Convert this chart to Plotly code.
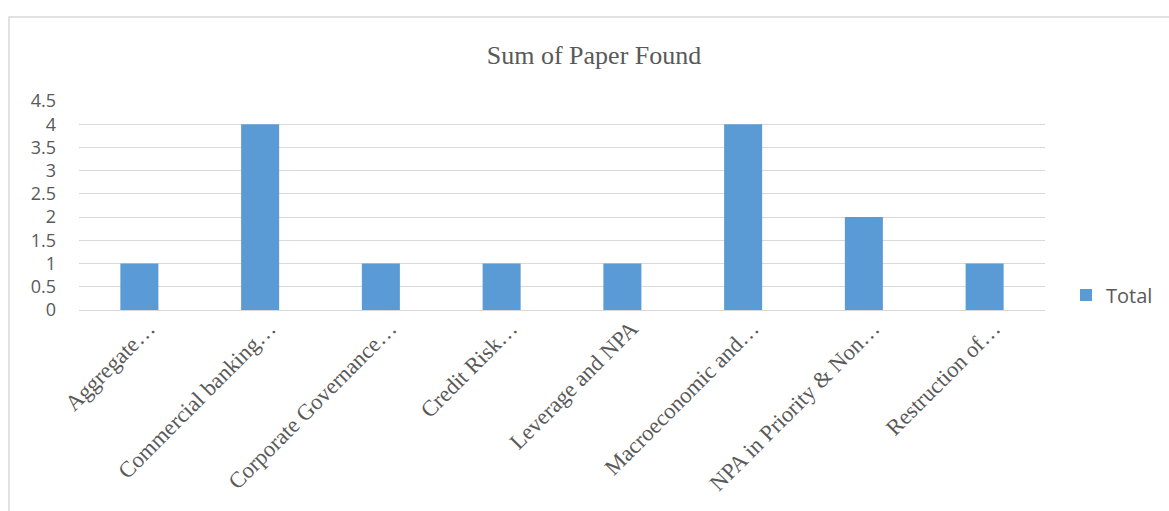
import plotly.graph_objects as go

categories = ["Aggregate…", "Commercial banking…", "Corporate Governance…", "Credit Risk…",
              "Leverage and NPA", "Macroeconomic and…", "NPA in Priority & Non…", "Restruction of…"]
totals = [1, 4, 1, 1, 1, 4, 2, 1]
y_ticks = [0, 0.5, 1, 1.5, 2, 2.5, 3, 3.5, 4, 4.5]
y_tick_labels = ["0", "0.5", "1", "1.5", "2", "2.5", "3", "3.5", "4", "4.5"]

W, H = 1169, 511
L, R, T, B = 79, 1045, 101, 310

fig = go.Figure()
fig.add_trace(go.Bar(
    x=categories, y=totals, name="Total",
    marker=dict(color="#5b9bd5", line=dict(color="#5b9bd5", width=0)),
    showlegend=True,
))

def px_x(p):
    return (p - L) / (R - L)

def px_y(p):
    return (B - p) / (B - T)

fig.update_layout(
    width=W, height=H,
    margin=dict(l=L, r=W - R, t=T, b=H - B),
    paper_bgcolor="white", plot_bgcolor="white",
    bargap=0.685,
    title=dict(text="Sum of Paper Found", x=594 / W, xanchor="center",
               y=1 - 55 / H, yanchor="middle",
               font=dict(family="Liberation Serif, Times New Roman, serif", size=26, color="#595959")),
    xaxis=dict(tickangle=-45, showgrid=False, showline=False, ticks="",
               ticklabelshift=9, ticklabelstandoff=0,
               tickfont=dict(family="Liberation Serif, Times New Roman, serif", size=22.5, color="#595959")),
    yaxis=dict(range=[0, 4.5], tickvals=y_ticks, ticktext=y_tick_labels,
               showgrid=True, gridcolor="#d9d9d9", gridwidth=1,
               zeroline=True, zerolinecolor="#d9d9d9", zerolinewidth=1,
               showline=False, ticks="", ticklabelstandoff=22,
               tickfont=dict(family="Open Sans, Liberation Sans, sans-serif", size=18, color="#595959")),
    legend=dict(xref="container", yref="container", x=1066 / W, y=1 - 295 / H,
                xanchor="left", yanchor="middle",
                font=dict(family="Open Sans, Liberation Sans, sans-serif", size=20, color="#595959"),
                bgcolor="rgba(0,0,0,0)", itemwidth=30),
    shapes=[dict(type="rect", xref="paper", yref="paper",
                 x0=px_x(9), x1=px_x(1200), y0=px_y(560), y1=px_y(17),
                 line=dict(color="#d9d9d9", width=1.5), fillcolor="rgba(0,0,0,0)", layer="below")],
)

fig.write_html("out.html", config={"displayModeBar": False},
               post_script="document.body.style.margin='0';")
